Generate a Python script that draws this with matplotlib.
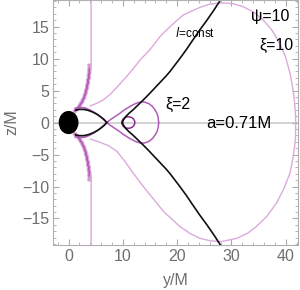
import matplotlib.pyplot as plt
from matplotlib.patches import Ellipse
from matplotlib.ticker import MultipleLocator

# horizon radius and spin
r_horizon = 1.70
spin_label = "a=0.71M"

# inner black lens (upper half, mirrored below)
lens_y = [1.3, 2.0, 2.8, 3.6, 4.4, 5.2, 5.9, 6.5, 7.05]
lens_z = [1.95, 2.05, 2.05, 1.9, 1.65, 1.3, 0.9, 0.5, 0.0]

# black l=const curve (upper half, mirrored below)
lconst_y = [9.9, 10.1, 10.5, 11.2, 11.9, 13.0, 14.2, 15.0, 16.0, 17.0, 18.0,
            18.7, 19.6, 20.5, 21.7, 22.9, 24.2, 25.5, 26.8, 28.1]
lconst_z = [0.0, 0.4, 0.9, 1.5, 2.0, 2.9, 3.9, 4.6, 5.5, 6.4, 7.3,
            8.0, 9.0, 10.0, 11.4, 12.9, 14.5, 16.0, 17.6, 19.3]

# xi=2 curve: body from horizon to crossing, then tail loop (upper half)
xi2_body_y = [1.2, 2.0, 3.0, 4.0, 4.9, 5.6, 6.1, 6.6, 7.05]
xi2_body_z = [2.25, 2.35, 2.3, 1.95, 1.5, 1.1, 0.7, 0.35, 0.0]
xi2_tail_y = [7.05, 7.7, 8.5, 9.3, 10.0, 10.8, 11.5, 12.3, 13.2, 14.0, 14.8,
              15.4, 15.9, 16.3, 16.5, 16.6]
xi2_tail_z = [0.0, 0.45, 0.9, 1.35, 1.8, 2.25, 2.6, 2.95, 3.2, 3.2, 2.95,
              2.55, 2.0, 1.4, 0.8, 0.0]

# small loop of the xi=2 orbit
loop_y, loop_z = 11.0, 0.0
loop_w, loop_h = 2.4, 1.8

# xi=10 orbit (light), upper then lower half
xi10_up_y = [4.0, 5.2, 6.5, 7.65, 9.0, 10.7, 12.0, 13.2, 15.0, 16.9, 18.7,
             21.1, 24.2, 26.0, 28.2, 30.2, 32.2, 34.2, 35.9, 37.5, 38.9,
             40.0, 40.8, 41.3, 41.6, 41.8, 41.85]
xi10_up_z = [2.6, 3.0, 3.6, 4.4, 5.6, 7.2, 8.5, 9.8, 11.4, 13.5, 15.0,
             16.8, 18.0, 18.5, 18.7, 18.6, 18.1, 17.2, 16.0, 14.4, 12.4,
             10.2, 7.7, 5.5, 3.5, 1.5, 0.0]
xi10_lo_y = [4.0, 5.5, 7.3, 8.9, 10.4, 11.9, 13.4, 15.0, 17.5, 20.5, 22.3,
             24.2, 26.2, 28.2, 31.0, 33.0, 34.6, 36.6, 38.3, 39.7, 40.8,
             41.4, 41.8, 41.85]
xi10_lo_z = [-2.6, -3.0, -3.6, -4.5, -6.1, -7.9, -9.6, -11.3, -13.9, -16.25,
             -17.3, -18.1, -18.5, -18.6, -18.1, -17.3, -16.25, -14.6, -12.6,
             -10.3, -7.9, -5.3, -2.7, 0.0]

# psi=10 plunging orbit near the horizon (upper half, mirrored below)
plunge_y = [1.2, 1.55, 1.75, 2.05, 2.2, 2.5, 2.6, 2.85, 2.95, 3.15, 3.2,
            3.4, 3.4, 3.6, 3.55, 3.75, 3.7, 3.85, 3.8, 3.9, 3.85]
plunge_z = [1.8, 2.05, 2.3, 2.6, 2.9, 3.2, 3.5, 3.85, 4.2, 4.6, 5.0,
            5.4, 5.8, 6.2, 6.6, 7.0, 7.4, 7.8, 8.2, 8.6, 8.9]
escape_y = [3.85, 4.15, 4.15]
escape_z = [8.9, 8.2, 19.3]

black = "#111111"
light = "#dcaadc"
medium = "#b25cb8"
dark = "#8a2a8e"
gray = "#6e6e6e"

plt.rcParams["font.family"] = ["Liberation Sans", "DejaVu Sans"]
fig = plt.figure(figsize=(3.0, 2.9), dpi=100)
ax = fig.add_axes([0.178, 0.155, 0.814, 0.845])


def mirror(vals):
    return [-v for v in vals]


ax.axhline(0, color="#cccccc", lw=1.2, zorder=0)

# xi=10 light orbit
ax.plot(xi10_up_y, xi10_up_z, color=light, lw=1.0)
ax.plot(xi10_lo_y, xi10_lo_z, color=light, lw=1.0)

# plunging orbit
for sgn in (1, -1):
    pz = plunge_z if sgn == 1 else mirror(plunge_z)
    ez = escape_z if sgn == 1 else mirror(escape_z)
    ax.plot(plunge_y, pz, color=light, lw=3.0)
    ax.plot(plunge_y, pz, color=medium, lw=1.3)
    ax.plot(escape_y, ez, color=light, lw=1.0)

# xi=2 orbit
for z_b, z_t in ((xi2_body_z, xi2_tail_z), (mirror(xi2_body_z), mirror(xi2_tail_z))):
    ax.plot(xi2_body_y, z_b, color=medium, lw=1.1)
    ax.plot(xi2_tail_y, z_t, color=medium, lw=1.1)
ax.add_patch(Ellipse((loop_y, loop_z), loop_w, loop_h, fill=False,
                     edgecolor=dark, lw=1.1))

# black curves
for z_l, z_c in ((lens_z, lconst_z), (mirror(lens_z), mirror(lconst_z))):
    ax.plot(lens_y, z_l, color=black, lw=1.2)
    ax.plot(lconst_y, z_c, color=black, lw=1.2)

# horizon
ax.add_patch(Ellipse((0, 0), 2 * r_horizon, 2 * r_horizon, color="black", zorder=5))

ax.text(37.1, 16.6, "ψ=10", fontsize=11.5, ha="center", va="center")
ax.text(38.3, 12.1, "ξ=10", fontsize=11.5, ha="center", va="center")
ax.text(23.3, 14.0, "$l$=const", fontsize=8.5, ha="center", va="center")
ax.text(20.2, 2.8, "ξ=2", fontsize=11.5, ha="center", va="center")
ax.text(31.3, -0.1, spin_label, fontsize=12, ha="center", va="center")

ax.set_xlim(-2.8, 42.2)
ax.set_ylim(-19.15, 19.15)
ax.xaxis.set_major_locator(MultipleLocator(10))
ax.xaxis.set_minor_locator(MultipleLocator(2))
ax.yaxis.set_major_locator(MultipleLocator(5))
ax.yaxis.set_minor_locator(MultipleLocator(1))
ax.tick_params(which="both", direction="in", colors="#aaaaaa", labelcolor=gray,
               labelsize=11.5, top=True, right=True)
ax.tick_params(which="major", length=4, pad=3)
ax.tick_params(which="minor", length=2)
for s in ax.spines.values():
    s.set_color("#b0b0b0")
ax.set_xlabel("y/M", fontsize=11.5, color=gray, labelpad=6)
ax.set_ylabel("z/M", fontsize=11.5, color=gray, labelpad=2)

fig.savefig("out.png", dpi=100)
